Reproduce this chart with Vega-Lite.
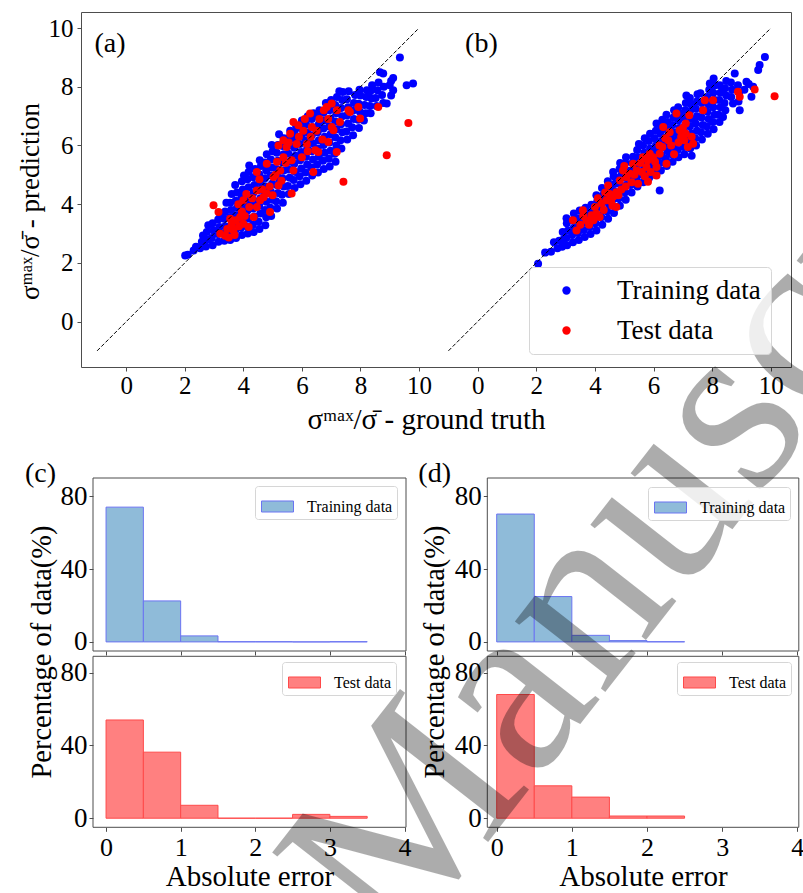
{
  "$schema": "https://vega.github.io/schema/vega-lite/v6.json",
  "width": 803,
  "height": 893,
  "autosize": {"type": "none"},
  "padding": 0,
  "config": {
    "font": "Liberation Serif",
    "view": {"stroke": null},
    "axis": {
      "grid": false,
      "labelFont": "Liberation Serif",
      "titleFont": "Liberation Serif",
      "labelFontSize": 25,
      "titleFontSize": 28,
      "titleFontWeight": "normal",
      "labelColor": "#000000",
      "titleColor": "#000000",
      "domainColor": "#4d4d4d",
      "tickColor": "#4d4d4d",
      "tickSize": 4,
      "tickWidth": 1,
      "domainWidth": 1,
      "labelFlush": false,
      "labelOverlap": false,
      "labelPadding": 3
    },
    "legend": {"labelFont": "Liberation Serif", "labelColor": "#000000"}
  },
  "datasets": {
    "a_train": [
      {"x":2.01,"y":2.25},{"x":2.1,"y":2.28},
      {"x":2.3,"y":2.42},{"x":2.38,"y":2.55},
      {"x":2.52,"y":2.5},{"x":2.58,"y":2.72},{"x":2.62,"y":2.93},
      {"x":2.72,"y":2.56},{"x":2.78,"y":2.8},{"x":2.75,"y":3.05},{"x":2.8,"y":3.28},
      {"x":2.95,"y":2.6},{"x":2.92,"y":2.85},{"x":2.98,"y":3.1},{"x":2.95,"y":3.35},
      {"x":3.15,"y":2.72},{"x":3.12,"y":2.98},{"x":3.18,"y":3.22},{"x":3.14,"y":3.48},{"x":3.2,"y":3.68},
      {"x":3.35,"y":2.75},{"x":3.32,"y":3.0},{"x":3.38,"y":3.25},{"x":3.34,"y":3.5},{"x":3.38,"y":3.75},{"x":3.42,"y":4.05},
      {"x":3.55,"y":2.78},{"x":3.52,"y":3.02},{"x":3.58,"y":3.28},{"x":3.54,"y":3.55},{"x":3.58,"y":3.8},{"x":3.55,"y":4.05},{"x":3.6,"y":4.35},
      {"x":3.75,"y":2.85},{"x":3.72,"y":3.1},{"x":3.78,"y":3.35},{"x":3.74,"y":3.62},{"x":3.78,"y":3.88},{"x":3.74,"y":4.12},{"x":3.78,"y":4.4},{"x":3.72,"y":4.65},
      {"x":3.95,"y":2.95},{"x":3.92,"y":3.2},{"x":3.98,"y":3.45},{"x":3.94,"y":3.72},{"x":3.98,"y":3.98},{"x":3.94,"y":4.25},{"x":3.98,"y":4.5},{"x":3.95,"y":4.78},{"x":4.02,"y":4.98},
      {"x":4.15,"y":3.0},{"x":4.12,"y":3.25},{"x":4.18,"y":3.52},{"x":4.14,"y":3.78},{"x":4.18,"y":4.05},{"x":4.14,"y":4.3},{"x":4.18,"y":4.58},{"x":4.14,"y":4.85},{"x":4.18,"y":5.1},{"x":4.2,"y":5.32},
      {"x":4.35,"y":3.05},{"x":4.32,"y":3.3},{"x":4.38,"y":3.58},{"x":4.34,"y":3.85},{"x":4.38,"y":4.1},{"x":4.34,"y":4.38},{"x":4.38,"y":4.65},{"x":4.34,"y":4.92},{"x":4.4,"y":5.2},
      {"x":4.55,"y":3.15},{"x":4.52,"y":3.4},{"x":4.58,"y":3.68},{"x":4.54,"y":3.95},{"x":4.58,"y":4.2},{"x":4.54,"y":4.48},{"x":4.58,"y":4.75},{"x":4.54,"y":5.02},{"x":4.6,"y":5.3},{"x":4.56,"y":5.5},
      {"x":4.75,"y":3.28},{"x":4.78,"y":3.55},{"x":4.74,"y":3.8},{"x":4.78,"y":4.08},{"x":4.74,"y":4.35},{"x":4.78,"y":4.6},{"x":4.74,"y":4.88},{"x":4.78,"y":5.15},{"x":4.74,"y":5.42},{"x":4.8,"y":5.7},
      {"x":4.95,"y":3.6},{"x":4.92,"y":3.88},{"x":4.98,"y":4.15},{"x":4.94,"y":4.42},{"x":4.98,"y":4.7},{"x":4.94,"y":4.98},{"x":4.98,"y":5.25},{"x":4.94,"y":5.52},{"x":5.0,"y":5.8},{"x":4.97,"y":6.02},
      {"x":5.15,"y":3.85},{"x":5.12,"y":4.1},{"x":5.18,"y":4.38},{"x":5.14,"y":4.65},{"x":5.18,"y":4.92},{"x":5.14,"y":5.2},{"x":5.18,"y":5.48},{"x":5.14,"y":5.75},{"x":5.18,"y":6.02},{"x":5.22,"y":6.38},
      {"x":5.35,"y":4.05},{"x":5.32,"y":4.32},{"x":5.38,"y":4.6},{"x":5.34,"y":4.88},{"x":5.38,"y":5.15},{"x":5.34,"y":5.42},{"x":5.38,"y":5.7},{"x":5.34,"y":5.98},{"x":5.38,"y":6.25},
      {"x":5.55,"y":4.35},{"x":5.52,"y":4.62},{"x":5.58,"y":4.9},{"x":5.54,"y":5.18},{"x":5.58,"y":5.45},{"x":5.54,"y":5.72},{"x":5.58,"y":6.0},{"x":5.54,"y":6.25},{"x":5.6,"y":6.5},
      {"x":5.75,"y":4.55},{"x":5.72,"y":4.82},{"x":5.78,"y":5.1},{"x":5.74,"y":5.38},{"x":5.78,"y":5.65},{"x":5.74,"y":5.92},{"x":5.78,"y":6.2},{"x":5.74,"y":6.45},{"x":5.8,"y":6.68},
      {"x":5.95,"y":4.68},{"x":5.92,"y":4.95},{"x":5.98,"y":5.22},{"x":5.94,"y":5.5},{"x":5.98,"y":5.78},{"x":5.94,"y":6.05},{"x":5.98,"y":6.32},{"x":5.94,"y":6.6},{"x":6.0,"y":6.85},
      {"x":6.15,"y":4.8},{"x":6.12,"y":5.08},{"x":6.18,"y":5.35},{"x":6.14,"y":5.62},{"x":6.18,"y":5.9},{"x":6.14,"y":6.18},{"x":6.18,"y":6.45},{"x":6.14,"y":6.72},{"x":6.2,"y":7.0},
      {"x":6.35,"y":4.98},{"x":6.32,"y":5.25},{"x":6.38,"y":5.52},{"x":6.34,"y":5.8},{"x":6.38,"y":6.08},{"x":6.34,"y":6.35},{"x":6.38,"y":6.62},{"x":6.34,"y":6.9},{"x":6.4,"y":7.1},
      {"x":6.55,"y":5.08},{"x":6.52,"y":5.35},{"x":6.58,"y":5.62},{"x":6.54,"y":5.9},{"x":6.58,"y":6.18},{"x":6.54,"y":6.45},{"x":6.58,"y":6.72},{"x":6.54,"y":7.0},{"x":6.6,"y":7.2},
      {"x":6.75,"y":5.2},{"x":6.72,"y":5.48},{"x":6.78,"y":5.75},{"x":6.74,"y":6.02},{"x":6.78,"y":6.3},{"x":6.74,"y":6.58},{"x":6.78,"y":6.85},{"x":6.74,"y":7.12},{"x":6.82,"y":7.45},
      {"x":6.95,"y":5.28},{"x":6.92,"y":5.55},{"x":6.98,"y":5.82},{"x":6.94,"y":6.1},{"x":6.98,"y":6.38},{"x":6.94,"y":6.65},{"x":6.98,"y":6.92},{"x":6.94,"y":7.2},{"x":7.0,"y":7.55},
      {"x":7.15,"y":5.45},{"x":7.12,"y":5.72},{"x":7.18,"y":6.0},{"x":7.14,"y":6.28},{"x":7.18,"y":6.55},{"x":7.14,"y":6.82},{"x":7.18,"y":7.1},{"x":7.14,"y":7.38},{"x":7.2,"y":7.65},{"x":7.28,"y":7.85},
      {"x":7.35,"y":5.9},{"x":7.32,"y":6.18},{"x":7.38,"y":6.45},{"x":7.34,"y":6.72},{"x":7.38,"y":7.0},{"x":7.34,"y":7.28},{"x":7.38,"y":7.55},{"x":7.4,"y":7.82},
      {"x":7.55,"y":6.2},{"x":7.52,"y":6.48},{"x":7.58,"y":6.75},{"x":7.54,"y":7.02},{"x":7.58,"y":7.3},{"x":7.54,"y":7.58},{"x":7.6,"y":7.85},
      {"x":7.75,"y":6.35},{"x":7.72,"y":6.62},{"x":7.78,"y":6.9},{"x":7.74,"y":7.18},{"x":7.78,"y":7.45},{"x":7.82,"y":7.72},
      {"x":7.95,"y":6.6},{"x":7.92,"y":6.88},{"x":7.98,"y":7.15},{"x":7.94,"y":7.42},{"x":8.0,"y":7.7},{"x":7.97,"y":7.9},
      {"x":8.12,"y":6.85},{"x":8.18,"y":7.1},{"x":8.14,"y":7.38},{"x":8.2,"y":7.65},{"x":8.22,"y":7.88},
      {"x":8.35,"y":7.1},{"x":8.32,"y":7.35},{"x":8.38,"y":7.6},{"x":8.34,"y":7.85},{"x":8.4,"y":8.05},
      {"x":8.55,"y":7.35},{"x":8.52,"y":7.62},{"x":8.58,"y":7.88},{"x":8.62,"y":8.15},{"x":8.67,"y":8.5},
      {"x":8.78,"y":7.45},{"x":8.74,"y":7.72},{"x":8.8,"y":8.0},{"x":8.78,"y":8.45},
      {"x":8.9,"y":7.43},{"x":9.05,"y":7.7},{"x":9.12,"y":7.88},{"x":9.05,"y":8.2},{"x":9.12,"y":8.3},{"x":9.0,"y":8.05},{"x":9.35,"y":9.0},{"x":9.58,"y":8.05},{"x":9.8,"y":8.11}
    ],
    "a_test": [
      {"x":2.98,"y":3.96},{"x":3.15,"y":3.73},{"x":3.21,"y":2.99},{"x":3.38,"y":2.92},{"x":3.5,"y":2.86},{"x":3.66,"y":3.1},
      {"x":3.55,"y":3.5},{"x":3.6,"y":3.3},{"x":3.75,"y":3.45},{"x":3.83,"y":4.0},{"x":4.0,"y":4.13},{"x":3.89,"y":3.56},
      {"x":3.85,"y":3.25},{"x":4.0,"y":3.33},{"x":4.05,"y":3.6},{"x":4.18,"y":3.22},{"x":4.2,"y":3.9},{"x":4.35,"y":3.56},
      {"x":4.3,"y":4.2},{"x":4.46,"y":3.9},{"x":4.46,"y":4.47},{"x":4.46,"y":5.1},{"x":4.57,"y":4.13},{"x":4.69,"y":4.24},
      {"x":4.65,"y":4.5},{"x":4.8,"y":4.36},{"x":4.91,"y":3.73},{"x":4.8,"y":5.38},{"x":4.9,"y":4.6},{"x":5.0,"y":4.3},
      {"x":5.03,"y":4.93},{"x":5.1,"y":5.0},{"x":5.2,"y":4.64},{"x":5.26,"y":5.15},{"x":5.3,"y":4.8},{"x":5.37,"y":5.6},
      {"x":5.2,"y":6.0},{"x":5.37,"y":6.18},{"x":5.45,"y":5.4},{"x":5.48,"y":5.95},{"x":5.6,"y":6.4},{"x":5.65,"y":4.36},
      {"x":5.65,"y":5.5},{"x":5.71,"y":5.15},{"x":5.71,"y":6.8},{"x":5.88,"y":6.69},{"x":5.82,"y":6.05},{"x":5.9,"y":6.3},
      {"x":6.0,"y":5.6},{"x":6.05,"y":6.5},{"x":6.17,"y":6.05},{"x":6.2,"y":5.8},{"x":6.28,"y":7.09},{"x":6.34,"y":6.63},
      {"x":6.3,"y":6.3},{"x":6.46,"y":5.84},{"x":6.39,"y":5.1},{"x":6.56,"y":5.78},{"x":6.6,"y":6.9},{"x":6.7,"y":6.2},
      {"x":6.85,"y":7.31},{"x":6.9,"y":6.12},{"x":6.9,"y":6.9},{"x":7.02,"y":7.43},{"x":7.02,"y":6.63},{"x":7.08,"y":6.52},
      {"x":7.19,"y":5.78},{"x":7.2,"y":7.2},{"x":7.3,"y":6.8},{"x":7.42,"y":4.76},{"x":7.59,"y":7.2},{"x":7.64,"y":7.14},
      {"x":7.93,"y":7.31},{"x":7.99,"y":6.92},{"x":8.61,"y":7.31},{"x":8.9,"y":5.67},{"x":9.64,"y":6.77},
      {"x":3.45,"y":3.15},{"x":3.7,"y":2.95},{"x":3.95,"y":3.75},{"x":4.1,"y":4.35},{"x":4.55,"y":4.85},
      {"x":5.15,"y":5.45},{"x":5.55,"y":6.1},{"x":6.1,"y":6.9},{"x":6.5,"y":6.5},{"x":6.75,"y":7.2}
    ],
    "b_train": [
      {"x":2.06,"y":1.97},{"x":2.3,"y":2.35},{"x":2.5,"y":2.38},{"x":2.6,"y":2.7},{"x":2.72,"y":2.5},{"x":2.78,"y":2.75},
      {"x":2.88,"y":2.55},{"x":2.92,"y":2.8},{"x":2.9,"y":3.05},
      {"x":3.05,"y":2.6},{"x":3.02,"y":2.85},{"x":3.08,"y":3.1},{"x":3.04,"y":3.35},{"x":3.03,"y":3.52},
      {"x":3.25,"y":2.7},{"x":3.22,"y":2.95},{"x":3.28,"y":3.2},{"x":3.24,"y":3.45},{"x":3.28,"y":3.68},
      {"x":3.45,"y":2.78},{"x":3.42,"y":3.02},{"x":3.48,"y":3.28},{"x":3.44,"y":3.52},{"x":3.48,"y":3.78},
      {"x":3.65,"y":2.88},{"x":3.62,"y":3.12},{"x":3.68,"y":3.38},{"x":3.64,"y":3.62},{"x":3.68,"y":3.88},
      {"x":3.85,"y":2.98},{"x":3.82,"y":3.22},{"x":3.88,"y":3.48},{"x":3.84,"y":3.72},{"x":3.88,"y":3.98},
      {"x":4.05,"y":3.1},{"x":4.02,"y":3.35},{"x":4.08,"y":3.6},{"x":4.04,"y":3.85},{"x":4.08,"y":4.1},{"x":4.05,"y":4.3},
      {"x":4.25,"y":3.3},{"x":4.22,"y":3.55},{"x":4.28,"y":3.8},{"x":4.24,"y":4.05},{"x":4.28,"y":4.3},{"x":4.24,"y":4.55},
      {"x":4.45,"y":3.5},{"x":4.42,"y":3.75},{"x":4.48,"y":4.0},{"x":4.44,"y":4.25},{"x":4.48,"y":4.5},{"x":4.44,"y":4.78},
      {"x":4.65,"y":3.7},{"x":4.62,"y":3.95},{"x":4.68,"y":4.2},{"x":4.64,"y":4.45},{"x":4.68,"y":4.7},{"x":4.64,"y":4.95},{"x":4.62,"y":5.1},
      {"x":4.85,"y":3.95},{"x":4.82,"y":4.2},{"x":4.88,"y":4.45},{"x":4.84,"y":4.7},{"x":4.88,"y":4.95},{"x":4.84,"y":5.2},{"x":4.86,"y":5.4},
      {"x":5.05,"y":4.15},{"x":5.02,"y":4.4},{"x":5.08,"y":4.65},{"x":5.04,"y":4.9},{"x":5.08,"y":5.15},{"x":5.04,"y":5.4},{"x":5.06,"y":5.6},
      {"x":5.25,"y":4.4},{"x":5.22,"y":4.65},{"x":5.28,"y":4.9},{"x":5.24,"y":5.15},{"x":5.28,"y":5.4},{"x":5.3,"y":5.62},
      {"x":5.45,"y":4.6},{"x":5.42,"y":4.85},{"x":5.48,"y":5.1},{"x":5.44,"y":5.35},{"x":5.48,"y":5.6},{"x":5.44,"y":5.85},{"x":5.5,"y":6.05},
      {"x":5.65,"y":4.75},{"x":5.62,"y":5.0},{"x":5.68,"y":5.25},{"x":5.64,"y":5.5},{"x":5.68,"y":5.75},{"x":5.64,"y":6.0},{"x":5.7,"y":6.25},
      {"x":5.85,"y":4.9},{"x":5.82,"y":5.15},{"x":5.88,"y":5.4},{"x":5.84,"y":5.65},{"x":5.88,"y":5.9},{"x":5.84,"y":6.15},{"x":5.88,"y":6.4},
      {"x":6.05,"y":5.0},{"x":6.02,"y":5.25},{"x":6.08,"y":5.5},{"x":6.04,"y":5.75},{"x":6.08,"y":6.0},{"x":6.04,"y":6.25},{"x":6.08,"y":6.5},{"x":6.1,"y":6.75},
      {"x":6.21,"y":4.47},{"x":6.25,"y":5.15},{"x":6.22,"y":5.4},{"x":6.28,"y":5.65},{"x":6.24,"y":5.9},{"x":6.28,"y":6.15},{"x":6.24,"y":6.4},{"x":6.28,"y":6.65},{"x":6.3,"y":6.88},
      {"x":6.45,"y":5.3},{"x":6.42,"y":5.55},{"x":6.48,"y":5.8},{"x":6.44,"y":6.05},{"x":6.48,"y":6.3},{"x":6.44,"y":6.55},{"x":6.48,"y":6.8},{"x":6.44,"y":7.05},
      {"x":6.65,"y":5.45},{"x":6.62,"y":5.7},{"x":6.68,"y":5.95},{"x":6.64,"y":6.2},{"x":6.68,"y":6.45},{"x":6.64,"y":6.7},{"x":6.68,"y":6.95},{"x":6.7,"y":7.2},
      {"x":6.85,"y":5.6},{"x":6.82,"y":5.85},{"x":6.88,"y":6.1},{"x":6.84,"y":6.35},{"x":6.88,"y":6.6},{"x":6.84,"y":6.85},{"x":6.88,"y":7.1},{"x":6.84,"y":7.3},
      {"x":7.05,"y":5.7},{"x":7.02,"y":5.95},{"x":7.08,"y":6.2},{"x":7.04,"y":6.45},{"x":7.08,"y":6.7},{"x":7.04,"y":6.95},{"x":7.08,"y":7.2},{"x":7.1,"y":7.45},{"x":7.12,"y":7.7},
      {"x":7.3,"y":5.65},{"x":7.25,"y":5.9},{"x":7.22,"y":6.15},{"x":7.28,"y":6.4},{"x":7.24,"y":6.65},{"x":7.28,"y":6.9},{"x":7.24,"y":7.15},{"x":7.28,"y":7.4},{"x":7.24,"y":7.62},
      {"x":7.45,"y":6.0},{"x":7.42,"y":6.25},{"x":7.48,"y":6.5},{"x":7.44,"y":6.75},{"x":7.48,"y":7.0},{"x":7.44,"y":7.25},{"x":7.48,"y":7.5},{"x":7.5,"y":7.75},
      {"x":7.65,"y":6.2},{"x":7.62,"y":6.45},{"x":7.68,"y":6.7},{"x":7.64,"y":6.95},{"x":7.68,"y":7.2},{"x":7.64,"y":7.45},{"x":7.6,"y":7.78},
      {"x":7.85,"y":6.4},{"x":7.82,"y":6.65},{"x":7.88,"y":6.9},{"x":7.84,"y":7.15},{"x":7.88,"y":7.4},{"x":7.84,"y":7.65},{"x":7.9,"y":7.9},{"x":7.92,"y":8.11},
      {"x":8.05,"y":6.55},{"x":8.02,"y":6.8},{"x":8.08,"y":7.05},{"x":8.04,"y":7.3},{"x":8.08,"y":7.55},{"x":8.04,"y":7.8},{"x":8.1,"y":8.05},{"x":8.05,"y":8.28},
      {"x":8.25,"y":6.8},{"x":8.22,"y":7.05},{"x":8.28,"y":7.3},{"x":8.24,"y":7.55},{"x":8.28,"y":7.8},{"x":8.26,"y":8.05},
      {"x":8.37,"y":6.97},{"x":8.45,"y":7.2},{"x":8.42,"y":7.45},{"x":8.48,"y":7.7},{"x":8.44,"y":7.95},{"x":8.48,"y":8.2},
      {"x":8.71,"y":7.43},{"x":8.65,"y":7.65},{"x":8.68,"y":7.9},{"x":8.64,"y":8.15},{"x":8.77,"y":8.45},
      {"x":8.94,"y":7.2},{"x":8.9,"y":7.5},{"x":8.92,"y":7.8},{"x":8.88,"y":8.05},
      {"x":9.17,"y":8.17},{"x":9.1,"y":7.9},{"x":9.34,"y":7.66},{"x":9.4,"y":8.0},{"x":9.25,"y":8.1},{"x":9.57,"y":8.57},{"x":9.62,"y":8.74},{"x":9.8,"y":9.02}
    ],
    "b_test": [
      {"x":3.25,"y":3.45},{"x":3.37,"y":3.1},{"x":3.5,"y":3.3},{"x":3.59,"y":3.79},{"x":3.71,"y":3.45},{"x":3.8,"y":3.3},
      {"x":3.88,"y":3.62},{"x":4.0,"y":3.9},{"x":4.05,"y":3.67},{"x":4.16,"y":3.56},{"x":4.22,"y":4.02},{"x":4.3,"y":3.8},
      {"x":4.39,"y":4.13},{"x":4.45,"y":4.64},{"x":4.5,"y":4.35},{"x":4.6,"y":3.95},{"x":4.62,"y":4.25},{"x":4.73,"y":4.41},
      {"x":4.73,"y":3.9},{"x":4.85,"y":4.81},{"x":4.9,"y":4.5},{"x":4.96,"y":5.15},{"x":5.05,"y":4.6},{"x":5.07,"y":4.93},
      {"x":5.19,"y":5.04},{"x":5.3,"y":5.38},{"x":5.35,"y":5.0},{"x":5.42,"y":5.15},{"x":5.47,"y":4.7},{"x":5.55,"y":5.4},
      {"x":5.64,"y":5.6},{"x":5.7,"y":4.95},{"x":5.76,"y":5.27},{"x":5.81,"y":4.76},{"x":5.87,"y":5.72},{"x":5.9,"y":5.1},
      {"x":5.98,"y":5.6},{"x":6.1,"y":5.27},{"x":6.1,"y":4.98},{"x":6.2,"y":6.0},{"x":6.21,"y":5.72},{"x":6.33,"y":6.63},
      {"x":6.4,"y":6.25},{"x":6.44,"y":5.38},{"x":6.5,"y":6.18},{"x":6.6,"y":6.0},{"x":6.7,"y":5.7},{"x":6.78,"y":7.09},
      {"x":6.89,"y":6.52},{"x":6.94,"y":6.29},{"x":7.0,"y":6.6},{"x":7.05,"y":6.18},{"x":7.1,"y":6.4},{"x":7.17,"y":5.95},
      {"x":7.22,"y":7.03},{"x":7.3,"y":6.3},{"x":7.35,"y":6.06},{"x":7.69,"y":7.2},{"x":7.75,"y":7.54},{"x":8.03,"y":7.54},
      {"x":8.88,"y":7.83},{"x":8.94,"y":7.66},{"x":9.45,"y":7.91},{"x":10.13,"y":7.68},
      {"x":3.6,"y":3.6},{"x":3.95,"y":3.45},{"x":4.1,"y":4.2},{"x":4.35,"y":4.4},{"x":4.55,"y":4.1},
      {"x":4.8,"y":4.3},{"x":5.0,"y":5.3},{"x":5.25,"y":4.75},{"x":5.6,"y":5.1},{"x":5.8,"y":5.5},
      {"x":6.05,"y":5.45},{"x":6.3,"y":5.95},{"x":6.55,"y":6.45},{"x":6.85,"y":6.1},{"x":7.1,"y":6.75}
    ],
    "c_train": [
      {"lo":0,"hi":0.5,"pct":74.0},{"lo":0.5,"hi":1,"pct":22.5},{"lo":1,"hi":1.5,"pct":3.3},
      {"lo":1.5,"hi":2,"pct":0.1},{"lo":2,"hi":2.5,"pct":0.1},{"lo":2.5,"hi":3,"pct":0},{"lo":3,"hi":3.5,"pct":0.1}
    ],
    "c_test": [
      {"lo":0,"hi":0.5,"pct":54.0},{"lo":0.5,"hi":1,"pct":36.3},{"lo":1,"hi":1.5,"pct":7.1},
      {"lo":1.5,"hi":2,"pct":0},{"lo":2,"hi":2.5,"pct":0},{"lo":2.5,"hi":3,"pct":2.1},{"lo":3,"hi":3.5,"pct":1.0}
    ],
    "d_train": [
      {"lo":0,"hi":0.5,"pct":70.2},{"lo":0.5,"hi":1,"pct":24.9},{"lo":1,"hi":1.5,"pct":3.6},
      {"lo":1.5,"hi":2,"pct":0.7},{"lo":2,"hi":2.5,"pct":0.1}
    ],
    "d_test": [
      {"lo":0,"hi":0.5,"pct":68.0},{"lo":0.5,"hi":1,"pct":17.8},{"lo":1,"hi":1.5,"pct":11.6},
      {"lo":1.5,"hi":2,"pct":1.2},{"lo":2,"hi":2.5,"pct":1.2}
    ]
  },
  "resolve": {
    "scale": {"x": "independent", "y": "independent", "color": "independent", "fill": "independent"},
    "axis": {"x": "independent", "y": "independent"},
    "legend": {"color": "independent", "fill": "independent"}
  },
  "layer": [
    {
      "resolve": {"axis": {"x": "independent", "y": "independent"}},
      "layer": [
        {
          "data": {"name": "a_train"},
          "mark": {"type": "point", "filled": true, "size": 64, "opacity": 1, "strokeWidth": 0},
          "encoding": {
            "x": {"field": "x", "type": "quantitative",
                  "scale": {"domain": [-1.55, 10.55], "range": [81, 435], "nice": false, "zero": false},
                  "axis": {"orient": "bottom", "offset": -526, "values": [0, 2, 4, 6, 8, 10], "format": "d", "labelPadding": 2,
                           "title": "σᵐᵃˣ/σ̄ - ground truth", "titleX": 426, "titleY": 61, "titleFontSize": 29,
                           "titleAlign": "center", "titleBaseline": "alphabetic"}},
            "y": {"field": "y", "type": "quantitative",
                  "scale": {"domain": [-1.55, 10.55], "range": [367, 12], "nice": false, "zero": false},
                  "axis": {"orient": "left", "offset": -81, "values": [0, 2, 4, 6, 8, 10], "format": "d", "labelPadding": 4,
                           "title": "σᵐᵃˣ/σ̄ - prediction", "titleX": -43, "titleY": 201, "titleFontSize": 27,
                           "titleAlign": "center", "titleBaseline": "alphabetic"}},
            "color": {"datum": "Training data", "type": "nominal",
                      "scale": {"domain": ["Training data", "Test data"], "range": ["#0000ff", "#ff0000"]}, "legend": null}
          }
        },
        {
          "data": {"name": "a_test"},
          "mark": {"type": "point", "filled": true, "size": 64, "opacity": 1, "strokeWidth": 0},
          "encoding": {
            "x": {"field": "x", "type": "quantitative", "scale": {"domain": [-1.55, 10.55], "range": [81, 435], "nice": false, "zero": false}, "axis": null},
            "y": {"field": "y", "type": "quantitative", "scale": {"domain": [-1.55, 10.55], "range": [367, 12], "nice": false, "zero": false}, "axis": null},
            "color": {"datum": "Test data", "type": "nominal",
                      "scale": {"domain": ["Training data", "Test data"], "range": ["#0000ff", "#ff0000"]}, "legend": null}
          }
        },
        {
          "data": {"values": [{}]},
          "mark": {"type": "rule", "color": "#000000", "strokeWidth": 1, "strokeDash": [4, 2]},
          "encoding": {
            "x": {"datum": -1, "type": "quantitative", "scale": {"domain": [-1.55, 10.55], "range": [81, 435], "nice": false, "zero": false},
                  "axis": {"orient": "top", "offset": -12, "labels": false, "ticks": false, "domain": true, "title": null}},
            "y": {"datum": -1, "type": "quantitative", "scale": {"domain": [-1.55, 10.55], "range": [367, 12], "nice": false, "zero": false}, "axis": null},
            "x2": {"datum": 10},
            "y2": {"datum": 10}
          }
        },
        {
          "data": {"values": [{}]},
          "mark": {"type": "text", "text": "(a)", "font": "Liberation Serif", "fontSize": 28, "align": "left", "baseline": "alphabetic", "color": "#000000"},
          "encoding": {
            "x": {"datum": -1.09, "type": "quantitative", "scale": {"domain": [-1.55, 10.55], "range": [81, 435], "nice": false, "zero": false}, "axis": null},
            "y": {"datum": 9.2, "type": "quantitative", "scale": {"domain": [-1.55, 10.55], "range": [367, 12], "nice": false, "zero": false}, "axis": null}
          }
        }
      ]
    },
    {
      "resolve": {"axis": {"x": "independent", "y": "independent"}},
      "layer": [
        {
          "data": {"name": "b_train"},
          "mark": {"type": "point", "filled": true, "size": 64, "opacity": 1, "strokeWidth": 0},
          "encoding": {
            "x": {"field": "x", "type": "quantitative",
                  "scale": {"domain": [-1.56, 10.69], "range": [432, 791], "nice": false, "zero": false},
                  "axis": {"orient": "bottom", "offset": -526, "values": [0, 2, 4, 6, 8, 10], "format": "d", "labelPadding": 2, "title": null}},
            "y": {"field": "y", "type": "quantitative",
                  "scale": {"domain": [-1.55, 10.55], "range": [367, 12], "nice": false, "zero": false}, "axis": null},
            "color": {"datum": "Training data", "type": "nominal",
                      "scale": {"domain": ["Training data", "Test data"], "range": ["#0000ff", "#ff0000"]},
                      "legend": {"orient": "none", "legendX": 529, "legendY": 267, "title": null,
                                 "symbolType": "circle", "symbolSize": 70, "symbolStrokeWidth": 0,
                                 "labelFontSize": 27, "labelOffset": 37, "symbolOffset": 14, "padding": 10, "rowPadding": 12,
                                 "strokeColor": "#d6d6d6", "fillColor": "rgba(255,255,255,0.8)", "cornerRadius": 4}}
          }
        },
        {
          "data": {"name": "b_test"},
          "mark": {"type": "point", "filled": true, "size": 64, "opacity": 1, "strokeWidth": 0},
          "encoding": {
            "x": {"field": "x", "type": "quantitative", "scale": {"domain": [-1.56, 10.69], "range": [432, 791], "nice": false, "zero": false}, "axis": null},
            "y": {"field": "y", "type": "quantitative", "scale": {"domain": [-1.55, 10.55], "range": [367, 12], "nice": false, "zero": false}, "axis": null},
            "color": {"datum": "Test data", "type": "nominal",
                      "scale": {"domain": ["Training data", "Test data"], "range": ["#0000ff", "#ff0000"]}, "legend": null}
          }
        },
        {
          "data": {"values": [{}]},
          "mark": {"type": "rule", "color": "#000000", "strokeWidth": 1, "strokeDash": [4, 2]},
          "encoding": {
            "x": {"datum": -1, "type": "quantitative", "scale": {"domain": [-1.56, 10.69], "range": [432, 791], "nice": false, "zero": false},
                  "axis": {"orient": "top", "offset": -12, "labels": false, "ticks": false, "domain": true, "title": null}},
            "y": {"datum": -1, "type": "quantitative", "scale": {"domain": [-1.55, 10.55], "range": [367, 12], "nice": false, "zero": false},
                  "axis": {"orient": "right", "offset": -12, "labels": false, "ticks": false, "domain": true, "title": null}},
            "x2": {"datum": 10},
            "y2": {"datum": 10}
          }
        },
        {
          "data": {"values": [{}]},
          "mark": {"type": "text", "text": "(b)", "font": "Liberation Serif", "fontSize": 28, "align": "left", "baseline": "alphabetic", "color": "#000000"},
          "encoding": {
            "x": {"datum": -0.43, "type": "quantitative", "scale": {"domain": [-1.56, 10.69], "range": [432, 791], "nice": false, "zero": false}, "axis": null},
            "y": {"datum": 9.2, "type": "quantitative", "scale": {"domain": [-1.55, 10.55], "range": [367, 12], "nice": false, "zero": false}, "axis": null}
          }
        }
      ]
    },
    {
      "resolve": {"axis": {"x": "independent", "y": "independent"}},
      "layer": [
        {
          "data": {"name": "c_train"},
          "mark": {"type": "rect", "stroke": "#6b74f2", "strokeWidth": 1},
          "encoding": {
            "x": {"field": "lo", "type": "quantitative",
                  "scale": {"domain": [-0.175, 4.02], "range": [93, 406], "nice": false, "zero": false},
                  "axis": {"orient": "bottom", "offset": -242, "values": [0, 1, 2, 3, 4], "labels": false, "domain": false, "title": null}},
            "x2": {"field": "hi"},
            "y": {"field": "pct", "type": "quantitative",
                  "scale": {"domain": [-5, 90], "range": [651, 478], "nice": false, "zero": false},
                  "axis": {"orient": "left", "offset": -93, "values": [0, 40, 80], "format": "d", "domain": false,
                           "labelFontSize": 27, "labelPadding": 2,
                           "title": "Percentage of data(%)", "titleX": -43, "titleY": 651.5, "titleFontSize": 28.5,
                           "titleAlign": "center", "titleBaseline": "alphabetic"}},
            "y2": {"datum": 0},
            "fill": {"datum": "Training data", "type": "nominal",
                     "scale": {"domain": ["Training data"], "range": ["#8fbbd9"]},
                     "legend": {"orient": "none", "legendX": 255, "legendY": 486, "title": null,
                                "symbolType": "M-1,-0.344H1V0.344H-1Z", "symbolSize": 1024,
                                "symbolStrokeColor": "#6b74f2", "symbolStrokeWidth": 1,
                                "labelFontSize": 16, "labelOffset": 13, "symbolOffset": 2, "padding": 4,
                                "strokeColor": "#d6d6d6", "fillColor": "rgba(255,255,255,0.8)", "cornerRadius": 3}}
          }
        },
        {
          "data": {"values": [{}]},
          "mark": {"type": "rect", "filled": false, "stroke": "#4d4d4d", "strokeWidth": 1},
          "encoding": {
            "x": {"datum": -0.175, "type": "quantitative", "scale": {"domain": [-0.175, 4.02], "range": [93, 406], "nice": false, "zero": false}, "axis": null},
            "x2": {"datum": 4.02},
            "y": {"datum": -5, "type": "quantitative", "scale": {"domain": [-5, 90], "range": [651, 478], "nice": false, "zero": false}, "axis": null},
            "y2": {"datum": 90}
          }
        },
        {
          "data": {"values": [{}]},
          "mark": {"type": "text", "text": "(c)", "font": "Liberation Serif", "fontSize": 28, "align": "left", "baseline": "alphabetic", "color": "#000000"},
          "encoding": {
            "x": {"datum": -1.086, "type": "quantitative", "scale": {"domain": [-0.175, 4.02], "range": [93, 406], "nice": false, "zero": false}, "axis": null},
            "y": {"datum": 88.0, "type": "quantitative", "scale": {"domain": [-5, 90], "range": [651, 478], "nice": false, "zero": false}, "axis": null}
          }
        }
      ]
    },
    {
      "resolve": {"axis": {"x": "independent", "y": "independent"}},
      "layer": [
        {
          "data": {"name": "c_test"},
          "mark": {"type": "rect", "stroke": "#ff4a4a", "strokeWidth": 1},
          "encoding": {
            "x": {"field": "lo", "type": "quantitative",
                  "scale": {"domain": [-0.175, 4.02], "range": [93, 406], "nice": false, "zero": false},
                  "axis": {"orient": "bottom", "offset": -65.7, "values": [0, 1, 2, 3, 4], "format": "d", "domain": false,
                           "labelFontSize": 26, "labelPadding": 3,
                           "title": "Absolute error", "titleX": 249.5, "titleY": 58, "titleFontSize": 29,
                           "titleAlign": "center", "titleBaseline": "alphabetic"}},
            "x2": {"field": "hi"},
            "y": {"field": "pct", "type": "quantitative",
                  "scale": {"domain": [-5, 89], "range": [827.3, 656.3], "nice": false, "zero": false},
                  "axis": {"orient": "left", "offset": -93, "values": [0, 40, 80], "format": "d", "domain": false,
                           "labelFontSize": 27, "labelPadding": 2, "title": null}},
            "y2": {"datum": 0},
            "fill": {"datum": "Test data", "type": "nominal",
                     "scale": {"domain": ["Test data"], "range": ["#ff8080"]},
                     "legend": {"orient": "none", "legendX": 282, "legendY": 662, "title": null,
                                "symbolType": "M-1,-0.344H1V0.344H-1Z", "symbolSize": 1024,
                                "symbolStrokeColor": "#ff4a4a", "symbolStrokeWidth": 1,
                                "labelFontSize": 16, "labelOffset": 13, "symbolOffset": 2, "padding": 4,
                                "strokeColor": "#d6d6d6", "fillColor": "rgba(255,255,255,0.8)", "cornerRadius": 3}}
          }
        },
        {
          "data": {"values": [{}]},
          "mark": {"type": "rect", "filled": false, "stroke": "#4d4d4d", "strokeWidth": 1},
          "encoding": {
            "x": {"datum": -0.175, "type": "quantitative", "scale": {"domain": [-0.175, 4.02], "range": [93, 406], "nice": false, "zero": false}, "axis": null},
            "x2": {"datum": 4.02},
            "y": {"datum": -5, "type": "quantitative", "scale": {"domain": [-5, 89], "range": [827.3, 656.3], "nice": false, "zero": false}, "axis": null},
            "y2": {"datum": 89}
          }
        }
      ]
    },
    {
      "resolve": {"axis": {"x": "independent", "y": "independent"}},
      "layer": [
        {
          "data": {"name": "d_train"},
          "mark": {"type": "rect", "stroke": "#6b74f2", "strokeWidth": 1},
          "encoding": {
            "x": {"field": "lo", "type": "quantitative",
                  "scale": {"domain": [-0.125, 4.02], "range": [487.3, 798.8], "nice": false, "zero": false},
                  "axis": {"orient": "bottom", "offset": -242, "values": [0, 1, 2, 3, 4], "labels": false, "domain": false, "title": null}},
            "x2": {"field": "hi"},
            "y": {"field": "pct", "type": "quantitative",
                  "scale": {"domain": [-5, 90], "range": [651, 478], "nice": false, "zero": false},
                  "axis": {"orient": "left", "offset": -487.3, "values": [0, 40, 80], "format": "d", "domain": false,
                           "labelFontSize": 27, "labelPadding": 2,
                           "title": "Percentage of data(%)", "titleX": -44.3, "titleY": 651.5, "titleFontSize": 28.5,
                           "titleAlign": "center", "titleBaseline": "alphabetic"}},
            "y2": {"datum": 0},
            "fill": {"datum": "Training data", "type": "nominal",
                     "scale": {"domain": ["Training data"], "range": ["#8fbbd9"]},
                     "legend": {"orient": "none", "legendX": 648, "legendY": 487, "title": null,
                                "symbolType": "M-1,-0.344H1V0.344H-1Z", "symbolSize": 1024,
                                "symbolStrokeColor": "#6b74f2", "symbolStrokeWidth": 1,
                                "labelFontSize": 16, "labelOffset": 13, "symbolOffset": 2, "padding": 4,
                                "strokeColor": "#d6d6d6", "fillColor": "rgba(255,255,255,0.8)", "cornerRadius": 3}}
          }
        },
        {
          "data": {"values": [{}]},
          "mark": {"type": "rect", "filled": false, "stroke": "#4d4d4d", "strokeWidth": 1},
          "encoding": {
            "x": {"datum": -0.125, "type": "quantitative", "scale": {"domain": [-0.125, 4.02], "range": [487.3, 798.8], "nice": false, "zero": false}, "axis": null},
            "x2": {"datum": 4.02},
            "y": {"datum": -5, "type": "quantitative", "scale": {"domain": [-5, 90], "range": [651, 478], "nice": false, "zero": false}, "axis": null},
            "y2": {"datum": 90}
          }
        },
        {
          "data": {"values": [{}]},
          "mark": {"type": "text", "text": "(d)", "font": "Liberation Serif", "fontSize": 28, "align": "left", "baseline": "alphabetic", "color": "#000000"},
          "encoding": {
            "x": {"datum": -1.043, "type": "quantitative", "scale": {"domain": [-0.125, 4.02], "range": [487.3, 798.8], "nice": false, "zero": false}, "axis": null},
            "y": {"datum": 88.0, "type": "quantitative", "scale": {"domain": [-5, 90], "range": [651, 478], "nice": false, "zero": false}, "axis": null}
          }
        }
      ]
    },
    {
      "resolve": {"axis": {"x": "independent", "y": "independent"}},
      "layer": [
        {
          "data": {"name": "d_test"},
          "mark": {"type": "rect", "stroke": "#ff4a4a", "strokeWidth": 1},
          "encoding": {
            "x": {"field": "lo", "type": "quantitative",
                  "scale": {"domain": [-0.125, 4.02], "range": [487.3, 798.8], "nice": false, "zero": false},
                  "axis": {"orient": "bottom", "offset": -65.7, "values": [0, 1, 2, 3, 4], "format": "d", "domain": false,
                           "labelFontSize": 26, "labelPadding": 3,
                           "title": "Absolute error", "titleX": 643, "titleY": 58, "titleFontSize": 29,
                           "titleAlign": "center", "titleBaseline": "alphabetic"}},
            "x2": {"field": "hi"},
            "y": {"field": "pct", "type": "quantitative",
                  "scale": {"domain": [-5, 89], "range": [827.3, 656.3], "nice": false, "zero": false},
                  "axis": {"orient": "left", "offset": -487.3, "values": [0, 40, 80], "format": "d", "domain": false,
                           "labelFontSize": 27, "labelPadding": 2, "title": null}},
            "y2": {"datum": 0},
            "fill": {"datum": "Test data", "type": "nominal",
                     "scale": {"domain": ["Test data"], "range": ["#ff8080"]},
                     "legend": {"orient": "none", "legendX": 677, "legendY": 662, "title": null,
                                "symbolType": "M-1,-0.344H1V0.344H-1Z", "symbolSize": 1024,
                                "symbolStrokeColor": "#ff4a4a", "symbolStrokeWidth": 1,
                                "labelFontSize": 16, "labelOffset": 13, "symbolOffset": 2, "padding": 4,
                                "strokeColor": "#d6d6d6", "fillColor": "rgba(255,255,255,0.8)", "cornerRadius": 3}}
          }
        },
        {
          "data": {"values": [{}]},
          "mark": {"type": "rect", "filled": false, "stroke": "#4d4d4d", "strokeWidth": 1},
          "encoding": {
            "x": {"datum": -0.125, "type": "quantitative", "scale": {"domain": [-0.125, 4.02], "range": [487.3, 798.8], "nice": false, "zero": false}, "axis": null},
            "x2": {"datum": 4.02},
            "y": {"datum": -5, "type": "quantitative", "scale": {"domain": [-5, 89], "range": [827.3, 656.3], "nice": false, "zero": false}, "axis": null},
            "y2": {"datum": 89}
          }
        }
      ]
    },
    {
      "data": {"values": [{}]},
      "mark": {"type": "text", "text": "Manuscript", "font": "Liberation Serif", "fontSize": 250, "angle": -52,
               "align": "left", "baseline": "alphabetic", "color": "#000000", "opacity": 0.32},
      "encoding": {
        "x": {"datum": 0.494, "type": "quantitative", "scale": {"domain": [0, 1], "nice": false, "zero": false}, "axis": null},
        "y": {"datum": 1.074, "type": "quantitative", "scale": {"domain": [0, 1], "reverse": true, "nice": false, "zero": false}, "axis": null}
      }
    }
  ]
}
